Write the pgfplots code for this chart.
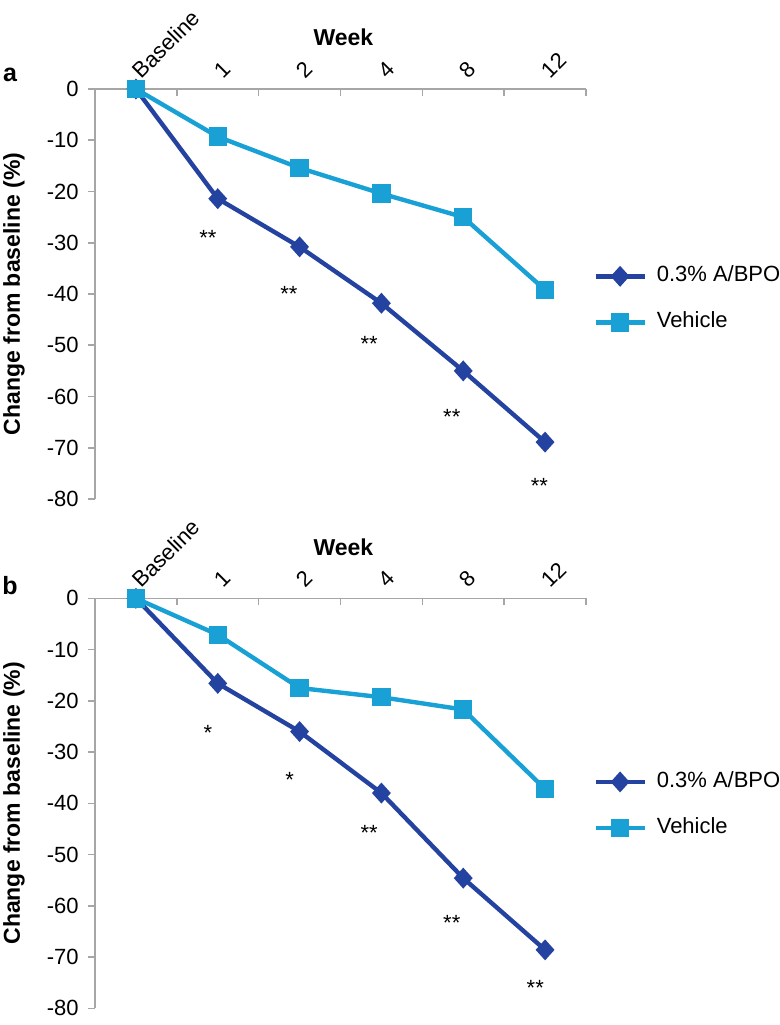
\documentclass[border=0pt]{standalone}
\usepackage{fontspec}
\setmainfont{Liberation Sans}
\usepackage{pgfplots}
\usepackage{pgfplotstable}
\pgfplotsset{compat=1.18}

\definecolor{abpo}{HTML}{2443A0}
\definecolor{veh}{HTML}{19A1D6}
\definecolor{axgray}{HTML}{A6A6A6}

% panel a
\pgfplotstableread{
x abpo veh
0 0 0
1 -21.4 -9.3
2 -30.8 -15.4
3 -41.8 -20.4
4 -55.0 -25.0
5 -68.9 -39.2
}\dataA
\pgfplotstableread{
x y s
0.88 -28.0 **
1.87 -39.0 **
2.85 -48.7 **
3.86 -63.1 **
4.93 -76.5 **
}\starsA
% panel b
\pgfplotstableread{
x abpo veh
0 0 0
1 -16.6 -7.1
2 -26.0 -17.5
3 -38.0 -19.3
4 -54.6 -21.7
5 -68.6 -37.2
}\dataB
\pgfplotstableread{
x y s
0.88 -25.3 *
1.88 -34.4 *
2.85 -44.8 **
3.86 -62.3 **
4.88 -75.0 **
}\starsB

\pgfplotsset{
  panel/.style={
    scale only axis, width=245.5pt, height=205pt,
    xmin=-0.5, xmax=5.5, ymin=-80, ymax=0,
    axis x line*=top, axis y line*=left,
    axis line style={axgray, line width=0.8pt},
    xtick={0,...,5}, xticklabels={Baseline,1,2,4,8,12},
    minor xtick={-0.5,0.5,...,5.5},
    major x tick style={draw=none},
    minor x tick style={axgray, line width=0.8pt},
    xtick align=inside, ytick align=outside,
    minor tick length=3.5pt, major tick length=3.5pt,
    ytick={-80,-70,...,0},
    yticklabels={-80,-70,-60,-50,-40,-30,-20,-10,0},
    y tick style={axgray, line width=0.8pt},
    tick label style={font=\fontsize{11}{13}\selectfont},
    xticklabel style={yshift=7.3pt, rotate=45, anchor=west, inner sep=0pt},
    yticklabel style={anchor=east, inner sep=0pt, xshift=-4.5pt},
    ylabel={Change from baseline (\%)},
    ylabel style={at={(axis description cs:-0.165,0.5)}, anchor=center,
      font=\bfseries\fontsize{11.5}{13}\selectfont},
    title={Week},
    title style={at={(axis description cs:0.506,1.096)}, anchor=center,
      font=\bfseries\fontsize{11.5}{13}\selectfont},
    clip=false,
    legend cell align=left,
    legend style={draw=none, fill=none, anchor=west, xshift=3.5pt, inner sep=0pt,
      font=\fontsize{11}{13}\selectfont, row sep=12.5pt,
      nodes={inner sep=0pt, text height=8pt, text depth=2.5pt},
      /tikz/every odd column/.append style={column sep=5pt}},
    legend image code/.code={\draw[mark repeat=2, mark phase=2, #1]
      plot coordinates {(0pt,0pt) (12.25pt,0pt) (24.5pt,0pt)};},
  },
  abpoline/.style={abpo, line width=2.2pt, mark=diamond*, mark size=3.6pt,
    mark options={solid, xscale=1.2}},
  vehline/.style={veh, line width=2.2pt, mark=square*, mark size=3.5pt,
    mark options={solid}},
  starplot/.style={draw=none, mark=none, forget plot, nodes near coords,
    point meta=explicit symbolic,
    every node near coord/.style={anchor=center, yshift=-2.5pt, black,
      inner sep=0pt, font=\fontsize{11}{13}\selectfont}},
}

\begin{document}
\begin{tikzpicture}
\useasboundingbox (0,0) rectangle (390pt,512.5pt);

\begin{axis}[panel, at={(47.5pt,263pt)}, anchor=south west,
  legend style={at={(axis description cs:1,0.487)}},
  extra description/.code={\node[font=\bfseries\fontsize{12.5}{14}\selectfont]
    at (axis description cs:-0.173,1.034) {a};}]
  \addplot[abpoline] table[x=x, y=abpo] {\dataA};
  \addlegendentry{0.3\% A/BPO}
  \addplot[vehline] table[x=x, y=veh] {\dataA};
  \addlegendentry{Vehicle}
  \addplot[starplot] table[x=x, y=y, meta=s] {\starsA};
\end{axis}

\begin{axis}[panel, at={(47.5pt,8.35pt)}, anchor=south west,
  legend style={at={(axis description cs:1,0.496)}},
  extra description/.code={\node[font=\bfseries\fontsize{12.5}{14}\selectfont]
    at (axis description cs:-0.173,1.03) {b};}]
  \addplot[abpoline] table[x=x, y=abpo] {\dataB};
  \addlegendentry{0.3\% A/BPO}
  \addplot[vehline] table[x=x, y=veh] {\dataB};
  \addlegendentry{Vehicle}
  \addplot[starplot] table[x=x, y=y, meta=s] {\starsB};
\end{axis}
\end{tikzpicture}
\end{document}
